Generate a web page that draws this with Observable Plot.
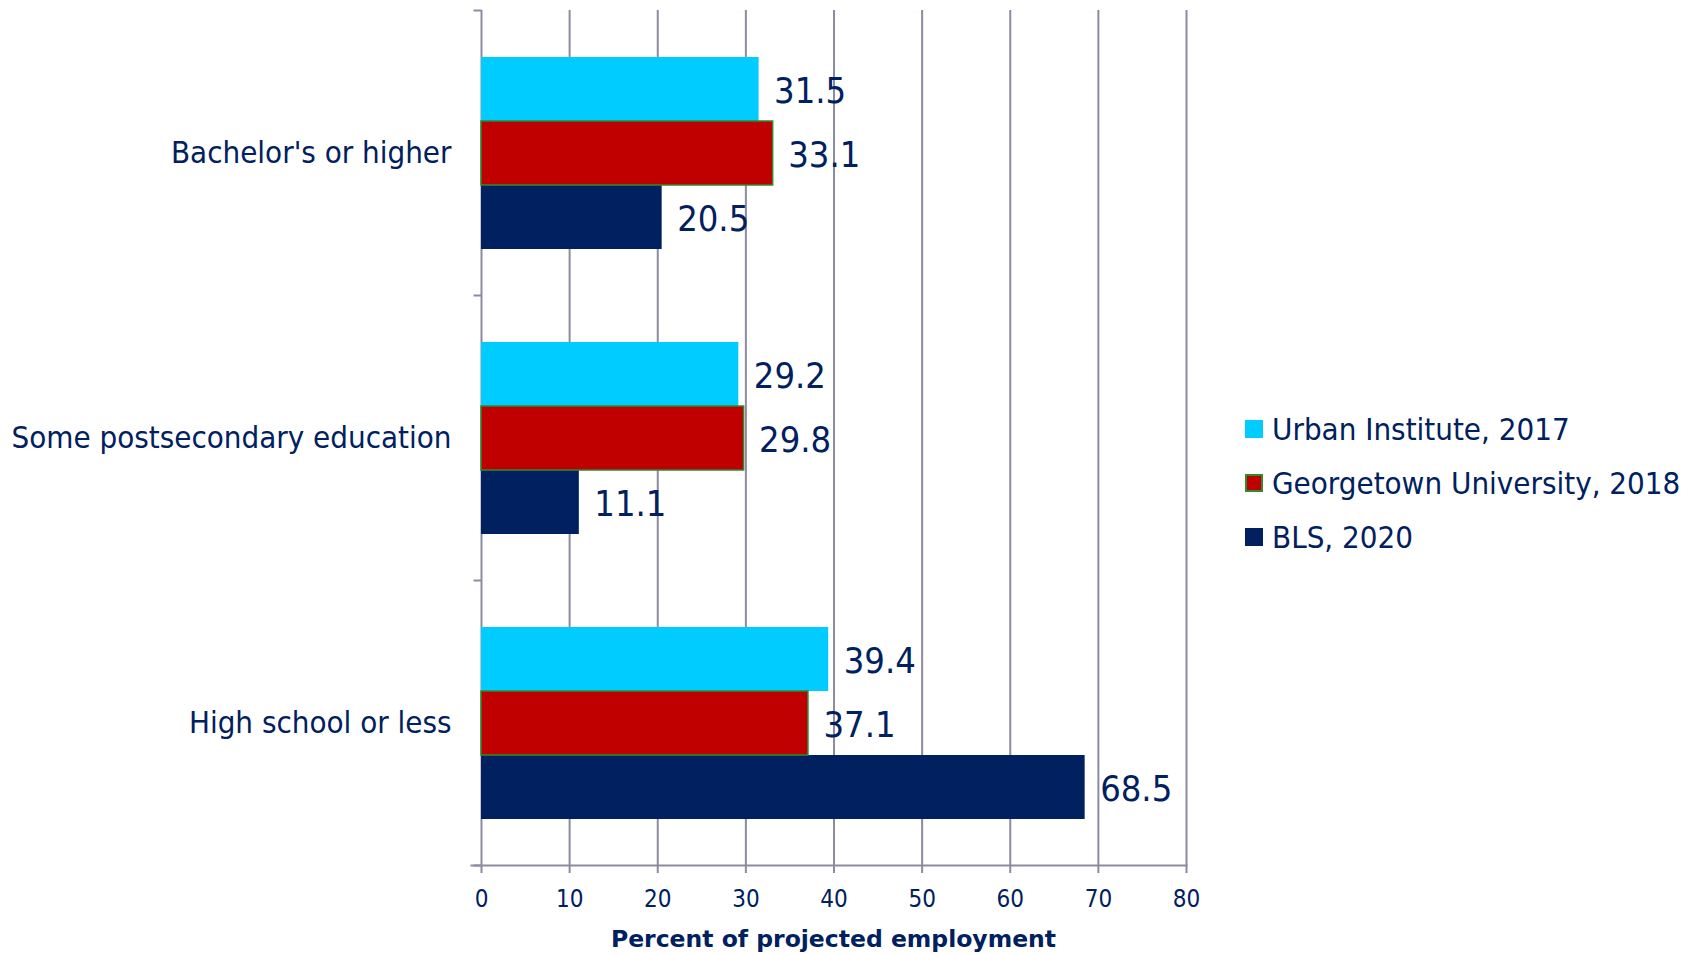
<!DOCTYPE html>
<html>
<head>
<meta charset="utf-8">
<script src="https://cdn.jsdelivr.net/npm/d3@7"></script>
<script src="https://cdn.jsdelivr.net/npm/@observablehq/plot@0.6"></script>
<style>
  html, body { margin: 0; padding: 0; background: #ffffff; }
  #wrap { position: relative; width: 1695px; height: 954px; overflow: hidden; font-family: "DejaVu Sans Condensed", "DejaVu Sans", sans-serif; font-stretch: condensed; color: #002060; }
  #legend { position: absolute; left: 1245px; top: 402px; }
  .row { display: flex; align-items: center; height: 54px; font-size: 31px; white-space: nowrap; }
  .sw { width: 18px; height: 18px; margin-right: 9px; box-sizing: border-box; }
  #xtitle { position: absolute; left: 481px; width: 705px; top: 924px; line-height: 30px; text-align: center; font-family: "DejaVu Sans", sans-serif; font-stretch: normal; font-weight: bold; font-size: 23.5px; }
</style>
</head>
<body>
<div id="wrap">
  <div id="chart"></div>
  <div id="legend"></div>
  <div id="xtitle"></div>
</div>
<script>
const categories = ["Bachelor's or higher", "Some postsecondary education", "High school or less"];
const series = ["Urban Institute, 2017", "Georgetown University, 2018", "BLS, 2020"];
const urbanValues = [31.5, 29.2, 39.4];
const georgetownValues = [33.1, 29.8, 37.1];
const blsValues = [20.5, 11.1, 68.5];
const xTicks = [0, 10, 20, 30, 40, 50, 60, 70, 80];
const seriesColors = ["#00CCFF", "#C00000", "#002060"];
const seriesStrokes = ["none", "#2E8B2E", "none"];
const xTitle = "Percent of projected employment";

const navy = "#002060";
const gridColor = "#8B8BA1";
const valuesBySeries = [urbanValues, georgetownValues, blsValues];
const data = categories.flatMap((c, i) => series.map((s, j) => ({category: c, series: s, value: valuesBySeries[j][i]})));
const outlined = data.filter(d => seriesStrokes[series.indexOf(d.series)] !== "none");

const leftTick = { draw(ctx) { ctx.moveTo(-8, 0); ctx.lineTo(0, 0); } };

const chart = Plot.plot({
  width: 1695,
  height: 954,
  marginLeft: 481,
  marginRight: 509,
  marginTop: 10,
  marginBottom: 89,
  style: { fontFamily: "'DejaVu Sans Condensed', 'DejaVu Sans', sans-serif", color: navy, background: "transparent", overflow: "visible" },
  x: { domain: [0, 80], axis: null },
  y: { domain: series, paddingInner: 0, paddingOuter: 0.72, axis: null },
  fy: { domain: categories, padding: 0, axis: null },
  color: { domain: series, range: seriesColors },
  marks: [
    Plot.ruleX(xTicks.slice(1), { stroke: gridColor, strokeWidth: 2 }),
    Plot.ruleX([0], { stroke: gridColor, strokeWidth: 2 }),
    Plot.dot(categories, { fy: d => d, frameAnchor: "top-left", symbol: leftTick, fill: "none", stroke: gridColor, strokeWidth: 2 }),
    Plot.dot([categories[categories.length - 1]], { fy: d => d, frameAnchor: "bottom-left", symbol: leftTick, fill: "none", stroke: gridColor, strokeWidth: 2 }),
    Plot.frame({ anchor: "bottom", facetAnchor: "bottom", insetLeft: -10, stroke: gridColor, strokeWidth: 2 }),
    Plot.axisX({ ticks: xTicks, tickSize: 8, tickPadding: 16, fontSize: 24, stroke: gridColor, strokeWidth: 2, label: null, tickFormat: d => String(d) }),
    Plot.axisFy({ anchor: "left", tickSize: 0, tickPadding: 30, fontSize: 31, label: null }),
    Plot.barX(data, { fy: "category", y: "series", x: "value", fill: "series" }),
    Plot.barX(outlined, { fy: "category", y: "series", x: "value", fill: "none", stroke: seriesStrokes[1], strokeWidth: 1.5 }),
    Plot.text(data, { fy: "category", y: "series", x: "value", text: d => d.value.toFixed(1), textAnchor: "start", dx: 15, dy: 2, fontSize: 36, fill: navy })
  ]
});
document.getElementById("chart").appendChild(chart);

const legend = document.getElementById("legend");
series.forEach((s, i) => {
  const row = document.createElement("div");
  row.className = "row";
  const sw = document.createElement("div");
  sw.className = "sw";
  sw.style.background = seriesColors[i];
  if (seriesStrokes[i] !== "none") sw.style.border = "2px solid " + seriesStrokes[i];
  const label = document.createElement("span");
  label.textContent = s;
  row.appendChild(sw);
  row.appendChild(label);
  legend.appendChild(row);
});
document.getElementById("xtitle").textContent = xTitle;
</script>
</body>
</html>
